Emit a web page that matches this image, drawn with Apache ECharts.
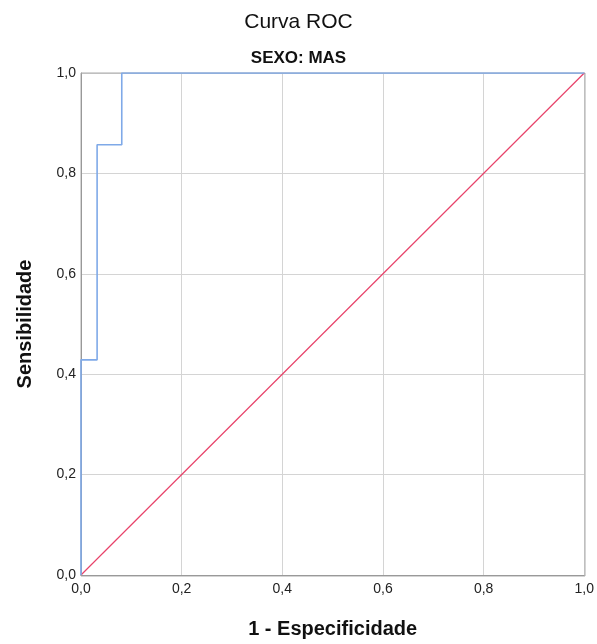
<!DOCTYPE html>
<html>
<head>
<meta charset="utf-8">
<script src="https://cdn.jsdelivr.net/npm/echarts@6/dist/echarts.min.js"></script>
<style>
  html, body { margin: 0; padding: 0; background: #fff; }
  #chart { width: 597px; height: 644px; }
</style>
</head>
<body>
<div id="chart"></div>
<script>
// ROC curve points (1 - specificity, sensitivity)
const rocX = [0, 0, 0.032, 0.032, 0.081, 0.081, 1];
const rocY = [0, 0.4286, 0.4286, 0.8571, 0.8571, 1, 1];
// reference line
const refX = [0, 1];
const refY = [0, 1];

const chart = echarts.init(document.getElementById('chart'), null, { renderer: 'canvas' });

const fmt = v => v.toFixed(1).replace('.', ',');

chart.setOption({
  animation: false,
  title: [
    { text: 'Curva ROC', left: 'center', top: 7,
      textStyle: { fontFamily: 'Liberation Sans', fontSize: 21, fontWeight: 'normal', color: '#111' } },
    { text: 'SEXO: MAS', left: 'center', top: 45,
      textStyle: { fontFamily: 'Liberation Sans', fontSize: 17, fontWeight: 'bold', color: '#111' } }
  ],
  grid: { left: 81, right: 12, top: 73, bottom: 68 },
  xAxis: {
    type: 'value', min: 0, max: 1, interval: 0.2,
    name: '1 - Especificidade', nameLocation: 'middle', nameGap: 44,
    nameTextStyle: { fontFamily: 'Liberation Sans', fontSize: 20, fontWeight: 'bold', color: '#111' },
    axisLine: { show: true, lineStyle: { color: '#888' } },
    axisTick: { show: false },
    axisLabel: { formatter: fmt, fontFamily: 'Liberation Sans', fontSize: 14, color: '#222', margin: 7 },
    splitLine: { show: true, lineStyle: { color: '#d4d4d4', width: 1 } }
  },
  yAxis: {
    type: 'value', min: 0, max: 1, interval: 0.2,
    name: 'Sensibilidade', nameLocation: 'middle', nameGap: 46,
    nameTextStyle: { fontFamily: 'Liberation Sans', fontSize: 20, fontWeight: 'bold', color: '#111' },
    axisLine: { show: true, lineStyle: { color: '#888' } },
    axisTick: { show: false },
    axisLabel: { formatter: fmt, fontFamily: 'Liberation Sans', fontSize: 14, color: '#222', margin: 5 },
    splitLine: { show: true, lineStyle: { color: '#d4d4d4', width: 1 } }
  },
  series: [
    {
      type: 'line',
      data: refX.map((x, i) => [x, refY[i]]),
      showSymbol: false,
      lineStyle: { color: '#e8436a', width: 1.2 },
      z: 2
    },
    {
      type: 'line',
      data: rocX.map((x, i) => [x, rocY[i]]),
      showSymbol: false,
      lineStyle: { color: '#7fa9e8', width: 1.6 },
      z: 3
    }
  ],
  graphic: [{
    type: 'rect',
    shape: { x: 81, y: 73, width: 504, height: 503 },
    style: { fill: 'none', stroke: '#aaa', lineWidth: 1 },
    silent: true, z: 1
  }]
});
</script>
</body>
</html>
